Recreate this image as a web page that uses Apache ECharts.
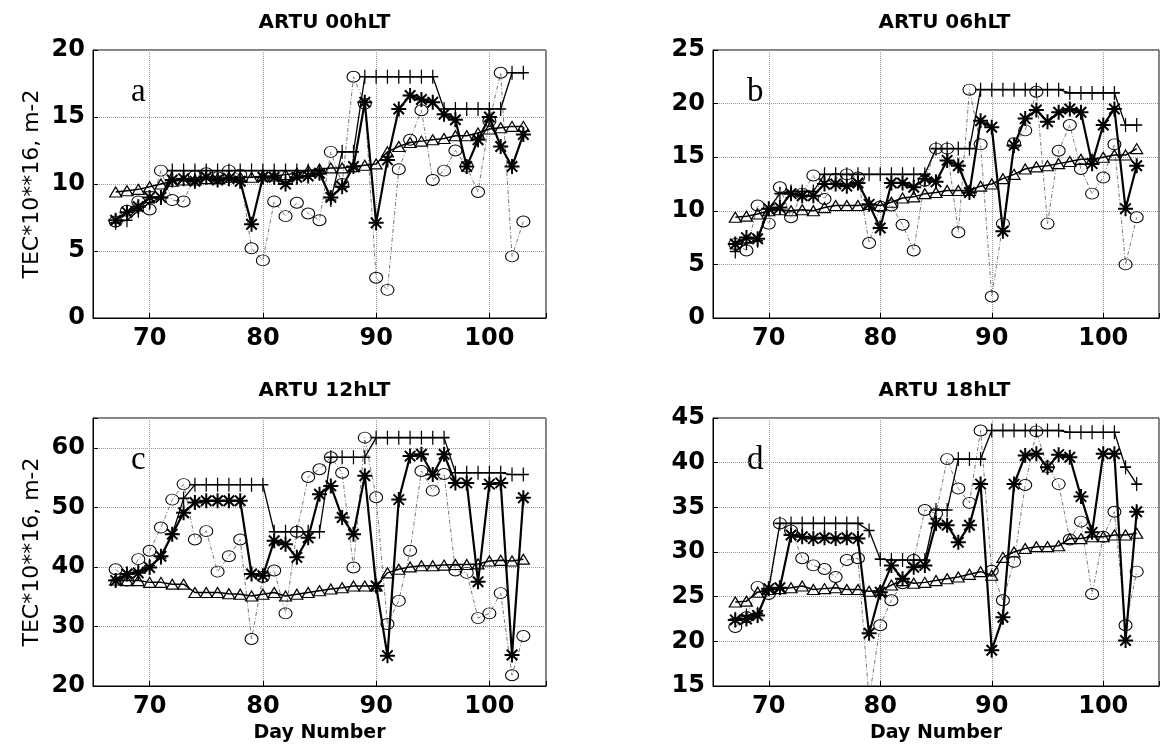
<!DOCTYPE html>
<html>
<head>
<meta charset="utf-8">
<title>ARTU TEC</title>
<script src="https://cdn.jsdelivr.net/npm/echarts@6/dist/echarts.min.js"></script>
<style>
html, body { margin: 0; padding: 0; background: #fff; }
#chart { width: 1162px; height: 749px; }
</style>
</head>
<body>
<div id="chart"></div>
<script>
// day numbers shared by all four panels
const days = [67, 68, 69, 70, 71, 72, 73, 74, 75, 76, 77, 78, 79, 80, 81, 82, 83, 84, 85,
  86, 87, 88, 89, 90, 91, 92, 93, 94, 95, 96, 97, 98, 99, 100, 101, 102, 103];

// a) 00hLT
const aPlus = [7.1, 7.3, 8.0, 8.6, 9.0, 11.0, 11.0, 11.0, 11.0, 11.0, 11.0, 11.0, 11.0, 11.0, 11.0, 11.0, 11.0, 11.0, 11.0,
  8.8, 12.4, 12.4, 18.0, 18.0, 18.0, 18.0, 18.0, 18.0, 18.0, 15.6, 15.6, 15.6, 15.6, 15.6, 15.6, 18.3, 18.3];
const aStar = [7.3, 7.9, 8.3, 9.0, 9.0, 10.3, 10.4, 10.2, 10.5, 10.3, 10.4, 10.2, 7.0, 10.5, 10.5, 10.0, 10.5, 10.6, 10.8,
  9.0, 9.8, 11.3, 16.1, 7.1, 11.8, 15.6, 16.6, 16.3, 16.1, 15.2, 14.8, 11.3, 13.3, 15.0, 12.8, 11.3, 13.7];
const aCircle = [7.2, 8.0, 8.7, 8.1, 11.0, 8.8, 8.7, 10.6, 10.8, 10.5, 11.0, 10.7, 5.2, 4.3, 8.7, 7.6, 8.6, 7.8, 7.3,
  12.4, 10.0, 18.0, 16.0, 3.0, 2.1, 11.1, 13.3, 15.5, 10.3, 11.0, 12.5, 11.3, 9.4, 14.7, 18.3, 4.6, 7.2];
const aTri = [9.4, 9.5, 9.6, 9.8, 10.0, 10.2, 10.3, 10.3, 10.4, 10.4, 10.5, 10.5, 10.5, 10.6, 10.6, 10.7, 10.8, 11.0, 11.1,
  11.2, 11.2, 11.3, 11.4, 11.5, 12.4, 12.8, 13.1, 13.2, 13.3, 13.4, 13.6, 13.6, 13.8, 14.1, 14.2, 14.3, 14.3];

// b) 06hLT
const bPlus = [6.2, 7.0, 7.2, 10.2, 11.6, 11.8, 11.8, 11.8, 13.4, 13.4, 13.4, 13.4, 13.4, 13.4, 13.4, 13.4, 13.4, 13.4, 15.8,
  15.8, 15.8, 15.8, 21.3, 21.3, 21.3, 21.3, 21.3, 21.3, 21.3, 21.3, 21.0, 21.0, 21.0, 21.0, 21.0, 18.0, 18.0];
const bStar = [6.9, 7.5, 7.4, 10.2, 10.3, 11.6, 11.4, 11.4, 12.5, 12.5, 12.3, 12.6, 10.6, 8.4, 12.6, 12.6, 12.2, 13.0, 12.7,
  14.7, 14.2, 11.7, 18.4, 17.8, 8.1, 16.1, 18.6, 19.4, 18.3, 19.2, 19.5, 19.2, 14.4, 18.0, 19.5, 10.2, 14.2];
const bCircle = [6.9, 6.3, 10.5, 8.8, 12.2, 9.4, 11.6, 13.3, 11.1, 13.0, 13.4, 13.1, 7.0, 10.4, 10.5, 8.7, 6.3, 12.8, 15.8,
  15.8, 8.0, 21.3, 16.2, 2.0, 8.8, 16.3, 17.5, 21.1, 8.8, 15.6, 18.0, 13.9, 11.6, 13.1, 16.2, 5.0, 9.4];
const bTri = [9.4, 9.5, 9.7, 10.0, 10.1, 10.0, 10.1, 10.0, 10.3, 10.5, 10.5, 10.5, 10.6, 10.5, 10.8, 11.2, 11.3, 11.6, 11.7,
  11.9, 11.9, 11.9, 12.3, 12.5, 13.0, 13.4, 13.9, 14.1, 14.2, 14.4, 14.6, 14.8, 14.8, 15.0, 15.2, 15.2, 15.8];

// c) 12hLT
const cPlus = [37.8, 38.8, 39.3, 40.2, 41.5, 45.5, 51.5, 53.8, 53.8, 53.8, 53.8, 53.8, 53.8, 53.8, 45.9, 45.9, 45.9, 45.9, 45.9,
  58.4, 58.4, 58.4, 58.4, 61.7, 61.7, 61.7, 61.7, 61.7, 61.7, 61.7, 55.8, 55.8, 55.8, 55.8, 55.8, 55.5, 55.5];
const cStar = [37.7, 38.8, 39.0, 39.9, 41.8, 45.5, 49.1, 50.8, 51.1, 51.1, 51.1, 51.1, 38.8, 38.5, 44.4, 43.8, 41.6, 44.9, 52.2,
  53.6, 48.3, 45.5, 55.3, 36.8, 25.1, 51.3, 58.6, 58.9, 55.5, 58.9, 54.1, 54.1, 37.5, 53.9, 54.1, 25.2, 51.6];
const cCircle = [39.6, 37.7, 41.3, 42.7, 46.6, 51.3, 53.9, 44.6, 46.0, 39.2, 41.8, 44.6, 27.9, 38.3, 39.4, 32.2, 45.9, 55.1, 56.4,
  58.4, 55.8, 39.9, 61.7, 51.7, 30.4, 34.3, 42.7, 56.1, 52.8, 55.6, 39.4, 39.0, 31.4, 32.2, 35.6, 21.8, 28.4];
const cTri = [37.8, 37.7, 37.7, 37.4, 37.4, 37.1, 37.1, 35.7, 35.7, 35.7, 35.5, 35.4, 35.1, 35.4, 35.7, 35.1, 35.4, 35.7, 36.0,
  36.3, 36.5, 36.8, 36.8, 36.8, 39.0, 39.6, 40.0, 40.2, 40.2, 40.3, 40.4, 40.4, 40.5, 41.0, 41.1, 41.0, 41.3];

// d) 18hLT
const dPlus = [22.5, 22.9, 23.1, 25.9, 33.2, 33.2, 33.2, 33.2, 33.2, 33.2, 33.2, 33.2, 32.4, 29.2, 29.1, 29.1, 29.1, 29.1, 34.7,
  34.7, 40.4, 40.4, 40.4, 43.6, 43.6, 43.6, 43.6, 43.6, 43.6, 43.6, 43.4, 43.4, 43.4, 43.4, 43.4, 39.5, 37.6];
const dStar = [22.4, 22.5, 22.9, 25.9, 26.0, 31.9, 31.7, 31.5, 31.6, 31.5, 31.6, 31.5, 20.9, 25.5, 28.5, 27.0, 28.3, 28.5, 33.2,
  33.0, 31.1, 33.0, 37.6, 19.0, 22.7, 37.6, 40.8, 41.0, 39.5, 40.9, 40.6, 36.2, 32.2, 41.0, 41.0, 20.1, 34.5];
const dCircle = [21.6, 22.7, 26.1, 25.3, 33.2, 32.4, 29.3, 28.5, 28.1, 27.2, 29.1, 29.3, 13.5, 21.8, 24.6, 26.5, 29.1, 34.7, 34.3,
  40.4, 37.1, 35.5, 43.6, 27.9, 24.6, 28.9, 37.5, 43.5, 39.5, 37.6, 31.4, 33.4, 25.3, 31.7, 34.5, 21.8, 27.8];
const dTri = [24.4, 24.5, 25.5, 25.8, 25.9, 26.0, 26.2, 25.8, 25.9, 26.0, 25.8, 25.8, 25.6, 25.7, 26.3, 26.8, 26.5, 26.6, 26.8,
  27.0, 27.2, 27.5, 27.8, 27.4, 29.4, 30.0, 30.4, 30.6, 30.6, 30.7, 31.5, 31.5, 31.7, 31.7, 31.9, 31.9, 32.1];

// axis ranges
const xRange = [65, 105];
const yRanges = [[0, 20, 5], [0, 25, 5], [20, 65, 10], [15, 45, 5]];
const titles = ['ARTU 00hLT', 'ARTU 06hLT', 'ARTU 12hLT', 'ARTU 18hLT'];
const letters = ['a', 'b', 'c', 'd'];
const yName = 'TEC*10**16, m-2';
const xName = 'Day Number';

const panels = [
  { left: 93, top: 50, plus: aPlus, star: aStar, circle: aCircle, tri: aTri },
  { left: 713, top: 50, plus: bPlus, star: bStar, circle: bCircle, tri: bTri },
  { left: 93, top: 418, plus: cPlus, star: cStar, circle: cCircle, tri: cTri },
  { left: 713, top: 418, plus: dPlus, star: dStar, circle: dCircle, tri: dTri }
];
const W = 453, H = 268;

const PLUS = 'path://M0,-1L0,1M-1,0L1,0';
const STAR = 'path://M0,-1L0,1M-1,0L1,0M-0.7,-0.7L0.7,0.7M-0.7,0.7L0.7,-0.7';
const pairs = vals => days.map((d, i) => [d, vals[i]]);
const tickFont = { fontFamily: 'DejaVu Sans', fontWeight: 'bold', fontSize: 24, color: '#000' };

let grid = [], xAxis = [], yAxis = [], series = [], title = [], graphic = [];

panels.forEach((p, i) => {
  const [yMin, yMax, yStep] = yRanges[i];
  grid.push({ left: p.left, top: p.top, width: W, height: H, show: true, borderColor: '#000', borderWidth: 1 });
  xAxis.push({
    type: 'value', gridIndex: i, min: xRange[0], max: xRange[1], splitNumber: 4,
    name: i >= 2 ? xName : '', nameLocation: 'middle', nameGap: 38,
    nameTextStyle: { fontFamily: 'DejaVu Sans', fontWeight: 'bold', fontSize: 19, color: '#000' },
    axisLine: { lineStyle: { color: '#000', width: 1 } },
    axisTick: { inside: true, length: 5, lineStyle: { color: '#000' } },
    axisLabel: Object.assign({ margin: 9, formatter: v => (v % 10 === 0 ? v : '') }, tickFont),
    splitLine: { show: true, lineStyle: { color: '#999', type: 'dotted', width: 1 } }
  });
  yAxis.push({
    type: 'value', gridIndex: i, min: yMin, max: yMax, interval: yStep,
    name: i % 2 === 0 ? yName : '', nameLocation: 'middle', nameGap: 50,
    nameTextStyle: { fontFamily: 'DejaVu Sans', fontSize: 22, color: '#000' },
    axisLine: { lineStyle: { color: '#000', width: 1 } },
    axisTick: { inside: true, length: 5, lineStyle: { color: '#000' } },
    axisLabel: Object.assign({ margin: 8, formatter: v => ((v - yMin) % yStep === 0 ? v : '') }, tickFont),
    splitLine: { show: true, lineStyle: { color: '#999', type: 'dotted', width: 1 } }
  });
  title.push({
    text: titles[i], left: p.left + W / 2, top: p.top - 42, textAlign: 'center',
    textStyle: { fontFamily: 'DejaVu Sans', fontWeight: 'bold', fontSize: 20, color: '#000' }
  });
  graphic.push({
    type: 'text', left: p.left + (i % 2 === 0 ? 38 : 34), top: p.top + 26,
    style: { text: letters[i], font: '33px "Liberation Serif"', fill: '#000' }
  });
  const common = { type: 'line', xAxisIndex: i, yAxisIndex: i, silent: true, animation: false };
  series.push(Object.assign({}, common, {
    data: pairs(p.circle), symbol: 'circle', symbolSize: [13, 11],
    itemStyle: { color: 'rgba(0,0,0,0)', borderColor: '#000', borderWidth: 1 },
    lineStyle: { color: '#555', width: 0.8, type: [4, 2, 1, 2] }
  }));
  series.push(Object.assign({}, common, {
    data: pairs(p.tri), symbol: 'triangle', symbolSize: [12, 10],
    itemStyle: { color: 'rgba(0,0,0,0)', borderColor: '#000', borderWidth: 1.2 },
    lineStyle: { color: '#000', width: 1.5 }
  }));
  series.push(Object.assign({}, common, {
    data: pairs(p.plus), symbol: PLUS, symbolSize: [11, 14],
    itemStyle: { color: 'rgba(0,0,0,0)', borderColor: '#000', borderWidth: 1.4 },
    lineStyle: { color: '#000', width: 1.3 }
  }));
  series.push(Object.assign({}, common, {
    data: pairs(p.star), symbol: STAR, symbolSize: 15,
    itemStyle: { color: 'rgba(0,0,0,0)', borderColor: '#000', borderWidth: 2 },
    lineStyle: { color: '#000', width: 2.2 }
  }));
});

const chart = echarts.init(document.getElementById('chart'));
chart.setOption({
  backgroundColor: '#fff',
  animation: false,
  title: title,
  grid: grid,
  xAxis: xAxis,
  yAxis: yAxis,
  graphic: graphic,
  series: series
});
</script>
</body>
</html>
